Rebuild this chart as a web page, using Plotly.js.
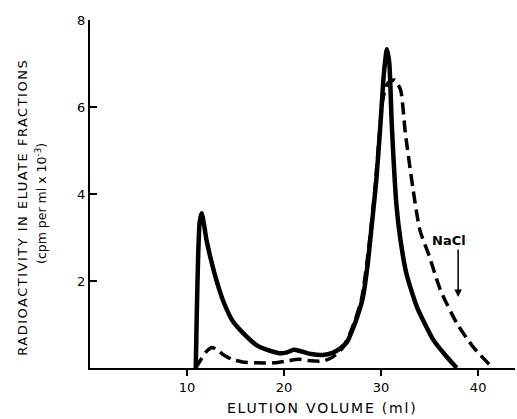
<!DOCTYPE html>
<html>
<head>
<meta charset="utf-8">
<script src="https://cdn.plot.ly/plotly-3.0.1.min.js"></script>
<style>
  html, body { margin: 0; padding: 0; background: #fff; }
  #chart { width: 517px; height: 419px; }
  .annotation[data-index="0"] text { letter-spacing: 1.8px; }
  .annotation[data-index="1"] text { letter-spacing: 1.5px; }
</style>
</head>
<body>
<div id="chart"></div>
<script>
// Control (solid) elution profile
const controlVolume = [10.9, 11.0, 11.15, 11.3, 11.5, 11.75, 12.0, 12.4, 12.8, 13.3, 13.8, 14.7, 16.2, 17.2, 18.2, 19.5, 20.3, 21.0, 21.8, 22.8, 24.0, 25.0, 25.8, 26.5, 27.0, 27.5, 28.1, 28.6, 29.0, 29.5, 29.9, 30.3, 30.6, 30.85, 31.1, 31.6, 32.0, 32.6, 33.7, 35.4, 36.6, 37.8];
const controlCpm    = [0.0, 1.2, 2.6, 3.35, 3.56, 3.3, 2.95, 2.55, 2.2, 1.82, 1.5, 1.08, 0.71, 0.52, 0.42, 0.34, 0.36, 0.42, 0.38, 0.32, 0.3, 0.35, 0.45, 0.6, 0.85, 1.15, 1.6, 2.35, 3.2, 4.3, 5.5, 6.8, 7.33, 7.0, 5.6, 3.7, 2.94, 2.18, 1.4, 0.64, 0.3, 0.0];

// NaCl (dashed) elution profile
const naclVolume = [10.9, 11.5, 12.0, 12.6, 13.2, 13.8, 14.6, 15.7, 17.0, 19.0, 20.5, 21.5, 22.5, 24.0, 25.0, 26.0, 26.8, 27.4, 28.0, 28.5, 28.9, 29.4, 29.8, 30.2, 30.7, 31.4, 32.0, 32.5, 33.3, 34.0, 35.0, 36.1, 37.8, 39.5, 41.5];
const naclCpm    = [0.0, 0.22, 0.38, 0.47, 0.4, 0.3, 0.2, 0.14, 0.12, 0.12, 0.17, 0.2, 0.17, 0.16, 0.25, 0.45, 0.8, 1.15, 1.6, 2.35, 3.1, 4.2, 5.3, 6.2, 6.55, 6.62, 6.4, 5.4, 4.1, 3.17, 2.55, 1.8, 1.03, 0.48, 0.0];

const xTicks = [10, 20, 30, 40];
const yTicks = [2, 4, 6, 8];

const fontFam = 'DejaVu Sans, Liberation Sans, sans-serif';

const traces = [
  {
    x: naclVolume, y: naclCpm, type: 'scatter', mode: 'lines', name: 'NaCl',
    line: { color: '#000', width: 3.5, dash: '12px,6px', shape: 'spline', smoothing: 0.6 },
    hoverinfo: 'skip'
  },
  {
    x: controlVolume, y: controlCpm, type: 'scatter', mode: 'lines', name: 'Control',
    line: { color: '#000', width: 4.5, shape: 'spline', smoothing: 0.6 },
    hoverinfo: 'skip'
  }
];

// plot-area geometry helpers (pixels -> paper)
const L = 90, R = 515, T = 20, B = 368;
const px = p => (p - L) / (R - L);
const py = p => (B - p) / (B - T);

const layout = {
  width: 517, height: 419,
  margin: { l: L, r: 517 - R, t: T, b: 419 - B },
  paper_bgcolor: '#fff', plot_bgcolor: '#fff',
  showlegend: false,
  font: { family: fontFam, color: '#000', size: 12 },
  xaxis: {
    range: [0, 43.8], tickvals: xTicks, ticktext: xTicks.map(String),
    ticks: 'outside', ticklen: 6, tickwidth: 2, tickcolor: '#000',
    showline: true, linewidth: 2, linecolor: '#000',
    showgrid: false, zeroline: false,
    tickfont: { family: fontFam, size: 13, color: '#000' }
  },
  yaxis: {
    range: [0, 8], tickvals: yTicks, ticktext: yTicks.map(String),
    ticks: 'inside', ticklen: 7, tickwidth: 2, tickcolor: '#000',
    showline: true, linewidth: 2, linecolor: '#000',
    showgrid: false, zeroline: false,
    tickfont: { family: fontFam, size: 13, color: '#000' }
  },
  annotations: [
    {
      text: 'ELUTION VOLUME (ml)', xref: 'paper', yref: 'paper',
      x: px(322), y: py(408), xanchor: 'center', yanchor: 'middle',
      showarrow: false, font: { family: fontFam, size: 14, color: '#000' }
    },
    {
      text: 'RADIOACTIVITY IN ELUATE FRACTIONS', xref: 'paper', yref: 'paper',
      x: px(22), y: py(208), xanchor: 'center', yanchor: 'middle', textangle: -90,
      showarrow: false, font: { family: fontFam, size: 13, color: '#000' }
    },
    {
      text: '(cpm per ml x 10<sup>-3</sup>)', xref: 'paper', yref: 'paper',
      x: px(41), y: py(204), xanchor: 'center', yanchor: 'middle', textangle: -90,
      showarrow: false, font: { family: fontFam, size: 12.5, color: '#000' }
    },
    {
      text: '<b>NaCl</b>', xref: 'x', yref: 'y',
      x: 37.0, y: 2.92, xanchor: 'center', yanchor: 'middle',
      showarrow: false, font: { family: fontFam, size: 13, color: '#000' }
    },
    {
      text: '', xref: 'x', yref: 'y', axref: 'x', ayref: 'y',
      x: 37.94, y: 1.63, ax: 37.94, ay: 2.76,
      showarrow: true, arrowhead: 2, arrowsize: 1, arrowwidth: 1.5, arrowcolor: '#000'
    }
  ]
};

Plotly.newPlot('chart', traces, layout, { staticPlot: true, displayModeBar: false });
</script>
</body>
</html>
